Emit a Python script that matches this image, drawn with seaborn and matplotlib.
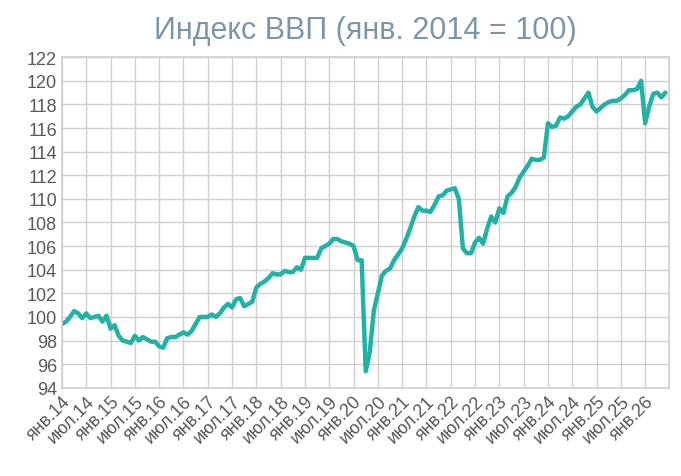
import matplotlib
matplotlib.use("Agg")
import matplotlib.pyplot as plt
import seaborn as sns
import numpy as np

v2014 = [99.4,99.6,100.0,100.5,100.3,99.9,100.3,99.9,100.0,100.1,99.6,100.1]
v2015 = [99.0,99.3,98.4,98.0,97.9,97.8,98.4,98.0,98.3,98.1,97.9,97.9]
v2016 = [97.5,97.4,98.2,98.3,98.3,98.5,98.7,98.5,98.8,99.4,100.0,100.0]
v2017 = [100.0,100.2,100.0,100.3,100.8,101.1,100.8,101.5,101.6,100.9,101.1,101.3]
v2018 = [102.5,102.8,103.0,103.3,103.7,103.6,103.6,103.9,103.8,103.8,104.2,104.0]
v2019 = [105.0,105.0,105.0,105.0,105.8,106.0,106.2,106.6,106.6,106.4,106.3,106.2]
v2020 = [106.0,104.8,104.8,95.4,97.0,100.5,102.0,103.5,103.9,104.1,104.8,105.3]
v2021 = [105.8,106.6,107.5,108.5,109.3,109.0,109.0,108.9,109.5,110.2,110.3,110.7]
v2022 = [110.8,110.9,110.0,105.8,105.4,105.4,106.3,106.7,106.2,107.5,108.5,108.0]
v2023 = [109.2,108.8,110.2,110.5,111.0,111.8,112.3,112.8,113.4,113.3,113.3,113.5]
v2024 = [116.4,116.1,116.2,116.9,116.8,117.0,117.4,117.8,118.0,118.5,119.0,117.8]
v2025 = [117.4,117.7,118.0,118.2,118.3,118.3,118.5,118.8,119.2,119.2,119.3,120.0]
v2026 = [116.4,117.8,118.9,119.0,118.6,119.0]
values = v2014+v2015+v2016+v2017+v2018+v2019+v2020+v2021+v2022+v2023+v2024+v2025+v2026
tick_labels = [f"{m}.{y}" for y in range(14, 27) for m in ("янв", "июл")][:25]

sns.set_theme(style="white")
plt.rcParams['font.family'] = ['Liberation Sans', 'DejaVu Sans']
fig, ax = plt.subplots(figsize=(6.81, 4.77), dpi=100)
x = np.arange(len(values))
sns.lineplot(x=x, y=values, ax=ax, color="#22b1a5", linewidth=3.2)
ax.set_xlim(0, 150)
ax.set_ylim(94, 122)
ax.set_yticks(range(94, 123, 2))
ax.set_xticks(range(0, 151, 6))
ax.set_xticklabels(tick_labels + [""], rotation=45, ha="right", rotation_mode="anchor")
ax.grid(True, color="#d0d0d0", linewidth=1)
for s in ax.spines.values():
    s.set_color("#d0d0d0")
ax.tick_params(axis="both", colors="#595959", labelsize=13, length=0)
ax.set_title("Индекс ВВП (янв. 2014 = 100)", color="#7e95a8", fontsize=22, pad=14)
fig.subplots_adjust(left=0.091, right=0.983, top=0.878, bottom=0.185)
fig.savefig("out.png", dpi=100)
